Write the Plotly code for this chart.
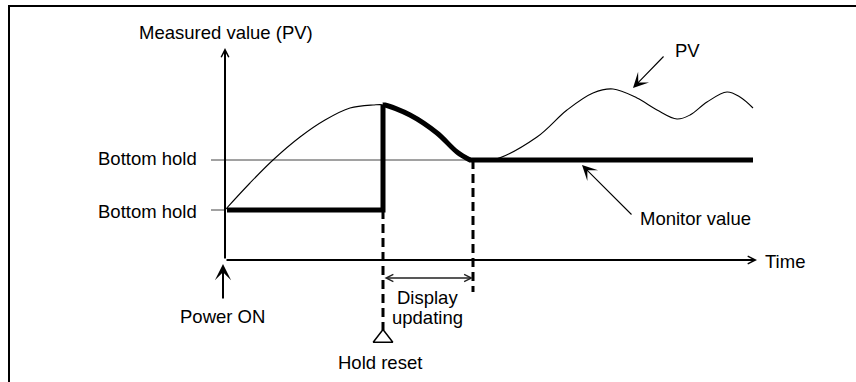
import plotly.graph_objects as go

# Measured value (PV) over time, in diagram units (time origin at power-on)
pv_time = [0, 25, 48, 75, 100, 125, 148, 160, 185, 212, 232, 245, 268, 312, 342,
           368, 388, 412, 432, 452, 465, 482, 502, 515, 528]
pv_value = [50, 77, 100, 123, 140, 152, 155, 155, 145, 127, 108, 100, 100, 123, 150,
            167, 171, 162, 150, 141, 145, 158, 168, 163, 152]

# Monitor value: held at bottom until hold reset, then tracks PV down to the new bottom
hold_time = [2, 158, 158]
hold_value = [50, 50, 155]
track_time = [158, 160, 185, 212, 232, 245]
track_value = [155, 155, 145, 127, 108, 100]
flat_time = [244, 528]
flat_value = [100, 100]

bottom_hold_low = 50
bottom_hold_high = 100
hold_reset_t = 158
update_end_t = 248
time_axis_end = 532
value_axis_end = 212

FONT = dict(family="Liberation Sans, Arial, sans-serif", size=18.5, color="black")

fig = go.Figure()

# Bottom hold guide lines
fig.add_trace(go.Scatter(x=[-14, 245], y=[bottom_hold_high] * 2, mode="lines",
                         line=dict(color="#444444", width=1), hoverinfo="skip"))
fig.add_trace(go.Scatter(x=[-14, 0], y=[bottom_hold_low] * 2, mode="lines",
                         line=dict(color="#444444", width=1), hoverinfo="skip"))

# PV curve
fig.add_trace(go.Scatter(x=pv_time, y=pv_value, mode="lines",
                         line=dict(color="black", width=1.1, shape="spline", smoothing=1),
                         hoverinfo="skip"))

# Dashed markers for hold reset and end of display updating
fig.add_trace(go.Scatter(x=[hold_reset_t, hold_reset_t], y=[bottom_hold_low, -70], mode="lines",
                         line=dict(color="black", width=3, dash="9px,5px"), hoverinfo="skip"))
fig.add_trace(go.Scatter(x=[update_end_t, update_end_t], y=[bottom_hold_high, -32], mode="lines",
                         line=dict(color="black", width=3, dash="9px,5px"), hoverinfo="skip"))

# Monitor value (thick)
fig.add_trace(go.Scatter(x=hold_time, y=hold_value, mode="lines",
                         line=dict(color="black", width=5), hoverinfo="skip"))
fig.add_trace(go.Scatter(x=track_time, y=track_value, mode="lines",
                         line=dict(color="black", width=5, shape="spline", smoothing=1),
                         hoverinfo="skip"))
fig.add_trace(go.Scatter(x=flat_time, y=flat_value, mode="lines",
                         line=dict(color="black", width=5), hoverinfo="skip"))

# Hold reset marker
fig.add_trace(go.Scatter(x=[hold_reset_t], y=[-78], mode="markers",
                         marker=dict(symbol="triangle-up-open", size=17, color="black",
                                     line=dict(width=1.5, color="black")),
                         hoverinfo="skip"))


def arrow(head, tail, width=2, head_style=5, size=0.7, color="black", side="end"):
    fig.add_annotation(x=head[0], y=head[1], ax=tail[0], ay=tail[1],
                       xref="x", yref="y", axref="x", ayref="y", text="",
                       showarrow=True, arrowhead=head_style, arrowsize=size,
                       arrowwidth=width, arrowcolor=color, arrowside=side,
                       standoff=0, startstandoff=0)


def label(x, y, text, xanchor="center"):
    fig.add_annotation(x=x, y=y, xref="x", yref="y", text=text, showarrow=False,
                       xanchor=xanchor, yanchor="middle", font=FONT)


# Axes with arrowheads
arrow((0, value_axis_end), (0, 0), width=2, head_style=5, size=0.75)
arrow((time_axis_end, 0), (0, 0), width=2, head_style=5, size=0.75)

# Display updating span
arrow((update_end_t, -18), (hold_reset_t, -18), width=1.3, head_style=5, size=1.1,
      color="#222222", side="end+start")

# Pointer arrows
arrow((-2, -4), (-2, -40), width=2, head_style=3, size=1.35)
arrow((408, 172), (440, 205), width=1.1, head_style=3, size=2.3)
arrow((357, 95), (408, 44), width=1.1, head_style=3, size=2.3)

# Text labels
label(1, 228, "Measured value (PV)")
label(-26, bottom_hold_high + 2, "Bottom hold", xanchor="right")
label(-26, bottom_hold_low - 1, "Bottom hold", xanchor="right")
label(538, -1, "Time", xanchor="left")
label(462, 210, "PV")
label(470, 42, "Monitor value")
label(-3, -56, "Power ON")
label(202, -37, "Display")
label(202, -57, "updating")
label(155, -102, "Hold reset")

# Outer frame
fig.add_shape(type="rect", x0=-216, y0=254, x1=700, y1=-170, xref="x", yref="y",
              line=dict(color="black", width=2), fillcolor="rgba(0,0,0,0)")

fig.update_layout(
    width=856, height=382, autosize=False,
    margin=dict(l=0, r=0, t=0, b=0, pad=0),
    paper_bgcolor="white", plot_bgcolor="white",
    showlegend=False,
    xaxis=dict(range=[-225, 631], visible=False, fixedrange=True),
    yaxis=dict(range=[-122, 260], visible=False, fixedrange=True),
)

fig.write_html("out.html")
